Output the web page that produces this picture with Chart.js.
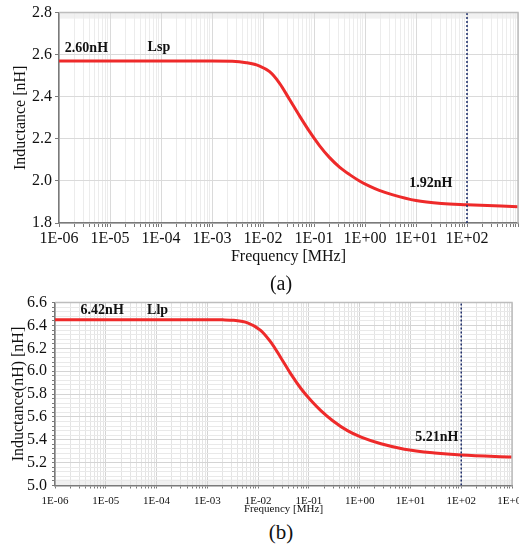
<!DOCTYPE html>
<html>
<head>
<meta charset="utf-8">
<script src="https://cdn.jsdelivr.net/npm/chart.js@4.4.1/dist/chart.umd.min.js"></script>
<style>
  html, body { margin: 0; padding: 0; background: #fff; overflow: hidden; width: 519px; height: 544px; }
  canvas { position: absolute; left: 0; }
  #chartA { top: 0; }
  #chartB { top: 288px; }
  .cap { position: absolute; font-family: "Liberation Serif", "Times New Roman", serif; color: #111; text-align: center; width: 60px; }
  #capA { left: 251px; top: 272px; font-size: 20px; line-height: 22px; }
  #capB { left: 251px; top: 521px; font-size: 21px; line-height: 23px; }
</style>
</head>
<body>
<canvas id="chartA" width="519" height="270" style="width:519px;height:270px"></canvas>
<canvas id="chartB" width="519" height="232" style="width:519px;height:232px"></canvas>
<div class="cap" id="capA">(a)</div>
<div class="cap" id="capB">(b)</div>
<script>
const SERIF = "'Liberation Serif', 'Times New Roman', serif";

// (a) Lsp
const freqA = [1e-6, 1e-5, 1e-4, 1e-3, 2.5e-3, 4.7e-3, 8.6e-3, 1.35e-2, 2.1e-2, 3.3e-2, 5.2e-2, 8.2e-2,
  0.128, 0.2, 0.316, 0.5, 0.78, 1.22, 1.9, 3.4, 10, 32, 100, 1000];
const lspA = [2.570, 2.570, 2.570, 2.570, 2.569, 2.562, 2.546, 2.519, 2.465, 2.388, 2.309, 2.234,
  2.168, 2.112, 2.066, 2.030, 2.000, 1.975, 1.955, 1.935, 1.907, 1.893, 1.887, 1.877];
const yLabelsA = ['1.8', '2.0', '2.2', '2.4', '2.6', '2.8'];
const xLabelsA = ['1E-06', '1E-05', '1E-04', '1E-03', '1E-02', '1E-01', '1E+00', '1E+01', '1E+02', ''];
const notesA = [
  { f: 3.45e-6, v: 2.632, text: '2.60nH' },
  { f: 9.1e-5, v: 2.635, text: 'Lsp' },
  { f: 19.5, v: 1.987, text: '1.92nH' }
];
const markerA = 100;

// (b) Llp
const freqB = [1e-6, 1e-5, 1e-4, 1e-3, 2e-3, 3.3e-3, 6.2e-3, 1.12e-2, 1.78e-2, 2.82e-2, 4.4e-2, 6.9e-2,
  0.11, 0.174, 0.295, 0.575, 1.07, 2.63, 7.6, 30, 100, 1000];
const llpB = [6.450, 6.450, 6.450, 6.450, 6.449, 6.445, 6.423, 6.358, 6.254, 6.116, 5.976, 5.851,
  5.743, 5.653, 5.567, 5.480, 5.423, 5.365, 5.318, 5.285, 5.267, 5.249];
const yLabelsB = ['5.0', '5.2', '5.4', '5.6', '5.8', '6.0', '6.2', '6.4', '6.6'];
const xLabelsB = ['1E-06', '1E-05', '1E-04', '1E-03', '1E-02', '1E-01', '1E+00', '1E+01', '1E+02', '1E+03'];
const notesB = [
  { f: 8.5e-6, v: 6.528, text: '6.42nH' },
  { f: 1.05e-4, v: 6.528, text: 'Llp' },
  { f: 33, v: 5.422, text: '5.21nH' }
];
const markerB = 100;

const firstDecade = -6;

// 1..9 x 10^n for each labelled decade, ending at the last decade
function logTicks(nLabels) {
  const out = [];
  for (let d = 0; d < nLabels; d++) {
    const e = firstDecade + d;
    for (let m = 1; m <= 9; m++) {
      out.push({ value: m * Math.pow(10, e), major: m === 1 });
      if (d === nLabels - 1) break;
    }
  }
  return out;
}

// major labels plus (sub - 1) minor ticks between them
function linTicks(labels, sub) {
  const vals = labels.map(Number);
  const out = [];
  for (let i = 0; i < vals.length; i++) {
    out.push({ value: vals[i], major: true, label: labels[i] });
    if (i === vals.length - 1) break;
    for (let k = 1; k < sub; k++) out.push({ value: vals[i] + (vals[i + 1] - vals[i]) * k / sub, major: false, label: '' });
  }
  return out;
}

function framePlugin(notes, band) {
  return {
    id: 'frame',
    beforeDraw(chart) {
      const { ctx, chartArea: a } = chart;
      ctx.save();
      ctx.fillStyle = '#f1f1f1';
      if (band === 'top') ctx.fillRect(a.left, a.top, a.right - a.left, 6);
      if (band === 'bottom') ctx.fillRect(a.left, a.bottom - 6, a.right - a.left, 6);
      ctx.restore();
    },
    afterDatasetsDraw(chart) {
      const { ctx, chartArea: a, scales } = chart;
      ctx.save();
      ctx.strokeStyle = '#bdbdbd';
      ctx.lineWidth = 1.5;
      ctx.beginPath();
      ctx.moveTo(a.left, a.top);
      ctx.lineTo(a.right, a.top);
      ctx.lineTo(a.right, a.bottom);
      ctx.stroke();
      ctx.fillStyle = '#111';
      ctx.font = 'bold 14px ' + SERIF;
      ctx.textAlign = 'center';
      ctx.textBaseline = 'middle';
      notes.forEach(n => ctx.fillText(n.text, scales.x.getPixelForValue(n.f), scales.y.getPixelForValue(n.v)));
      ctx.restore();
    }
  };
}

function isDecade(v) {
  const l = Math.log10(v);
  return Math.abs(l - Math.round(l)) < 1e-9;
}

function makeChart(id, o) {
  const yT = linTicks(o.yLabels, o.ySub);
  const xT = logTicks(o.xLabels.length);
  return new Chart(document.getElementById(id), {
    type: 'line',
    data: {
      datasets: [{
        data: [{ x: o.marker, y: Number(o.yLabels[0]) }, { x: o.marker, y: Number(o.yLabels[o.yLabels.length - 1]) }],
        borderColor: '#1b2c6b',
        borderWidth: 1.5,
        borderDash: [2, 2],
        pointRadius: 0
      }, {
        data: o.freq.map((f, i) => ({ x: f, y: o.vals[i] })),
        borderColor: '#ee2a2a',
        borderWidth: 3,
        pointRadius: 0,
        cubicInterpolationMode: 'monotone'
      }]
    },
    options: {
      responsive: false,
      animation: false,
      layout: { padding: o.pad },
      plugins: { legend: { display: false }, tooltip: { enabled: false } },
      scales: {
        x: {
          type: 'logarithmic',
          min: 1e-6, max: 1e3,
          afterBuildTicks: s => { s.ticks = xT.map(t => ({ value: t.value, major: t.major })); },
          afterFit: s => { s.height = o.xHeight; s.paddingRight = 0; },
          ticks: {
            autoSkip: false, maxRotation: 0, padding: o.xTickPad, color: '#111',
            font: { family: SERIF, size: o.xTickSize },
            callback: v => isDecade(v) ? o.xLabels[Math.round(Math.log10(v)) - firstDecade] : ''
          },
          grid: {
            color: c => c.tick && isDecade(c.tick.value) ? o.gridMajor : o.gridMinorX,
            tickColor: '#7a7a7a', tickLength: o.tickLen, lineWidth: 1
          },
          border: { color: '#7a7a7a', width: 1.5 },
          title: {
            display: true, text: 'Frequency [MHz]', color: '#111',
            font: { family: SERIF, size: o.xTitleSize }, padding: { top: 0, bottom: o.xTitlePad }
          }
        },
        y: {
          min: Number(o.yLabels[0]), max: Number(o.yLabels[o.yLabels.length - 1]),
          afterBuildTicks: s => { s.ticks = yT.map(t => ({ value: t.value, major: t.major })); },
          afterFit: s => { s.width = o.yWidth; },
          ticks: {
            autoSkip: false, padding: o.yTickPad, color: '#111',
            font: { family: SERIF, size: 16 },
            callback: (v, i) => yT[i] ? yT[i].label : ''
          },
          grid: {
            color: c => c.tick && yT[c.index] && yT[c.index].major ? o.gridMajor : o.gridMinorY,
            tickColor: '#7a7a7a', tickLength: o.tickLen, lineWidth: 1
          },
          border: { color: '#7a7a7a', width: 1.5 },
          title: {
            display: true, text: o.yTitle, color: '#111',
            font: { family: SERIF, size: 16 }, padding: { top: o.yTitlePad, bottom: 0 }
          }
        }
      }
    },
    plugins: [framePlugin(o.notes, o.band)]
  });
}

makeChart('chartA', {
  freq: freqA, vals: lspA, yLabels: yLabelsA, ySub: 1, xLabels: xLabelsA, notes: notesA, marker: markerA,
  yTitle: 'Inductance [nH]', pad: { top: 11, right: 1, left: 0, bottom: 0 },
  xHeight: 47, yWidth: 59, tickLen: 4, xTickPad: 2, yTickPad: 3, xTickSize: 16, xTitleSize: 16,
  xTitlePad: 4, yTitlePad: 11, gridMajor: '#dadada', gridMinorX: '#ececec', gridMinorY: '#ececec', band: 'top'
});

makeChart('chartB', {
  freq: freqB, vals: llpB, yLabels: yLabelsB, ySub: 5, xLabels: xLabelsB, notes: notesB, marker: markerB,
  yTitle: 'Inductance(nH) [nH]', pad: { top: 12, right: 7, left: 0, bottom: 0 },
  xHeight: 34.5, yWidth: 55, tickLen: 3, xTickPad: 6, yTickPad: 5, xTickSize: 11, xTitleSize: 11,
  xTitlePad: 4, yTitlePad: 9, gridMajor: '#d4d4d4', gridMinorX: '#e4e4e4', gridMinorY: '#e9e9e9', band: 'bottom'
});
</script>
</body>
</html>
